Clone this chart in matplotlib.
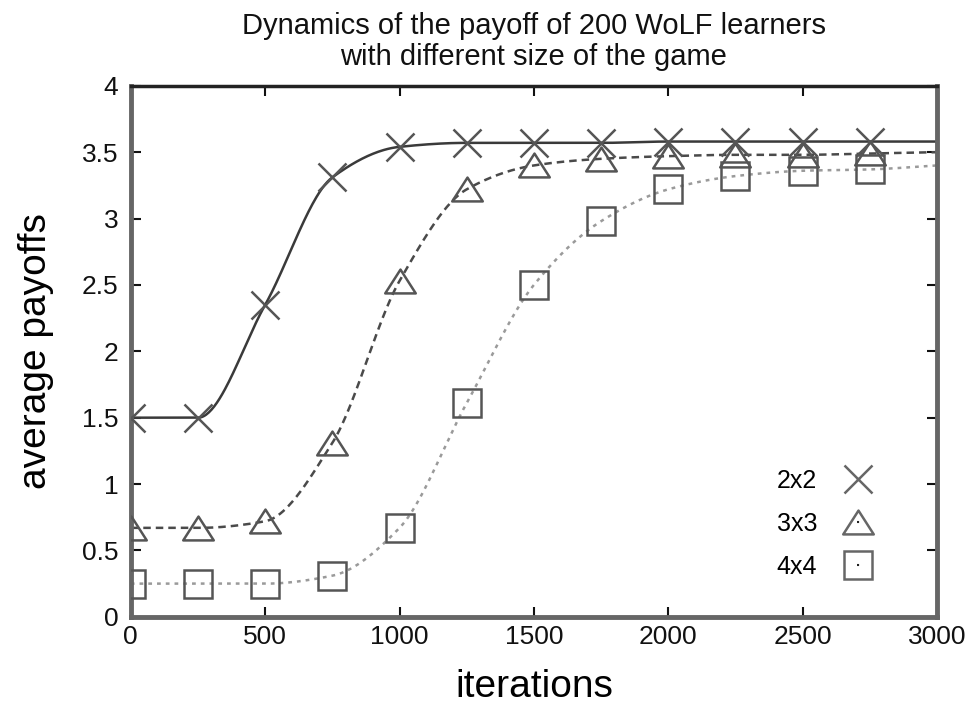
import numpy as np
import matplotlib
matplotlib.use("Agg")
import matplotlib.pyplot as plt
from matplotlib.path import Path

plt.rcParams['font.family'] = ['Liberation Sans', 'DejaVu Sans']

iterations = [0, 250, 500, 750, 1000, 1250, 1500, 1750, 2000, 2250, 2500, 2750, 3000]
payoff_2x2 = [1.50, 1.50, 2.35, 3.31, 3.54, 3.57, 3.57, 3.57, 3.58, 3.58, 3.58, 3.58, 3.58]
payoff_3x3 = [0.67, 0.67, 0.72, 1.31, 2.53, 3.22, 3.40, 3.45, 3.47, 3.48, 3.48, 3.49, 3.50]
payoff_4x4 = [0.25, 0.25, 0.25, 0.31, 0.67, 1.61, 2.50, 2.98, 3.22, 3.32, 3.36, 3.37, 3.40]
labels = ["2x2", "3x3", "4x4"]
x_ticks = [0, 500, 1000, 1500, 2000, 2500, 3000]
y_ticks = [0, 0.5, 1, 1.5, 2, 2.5, 3, 3.5, 4]
y_tick_labels = ["0", "0.5", "1", "1.5", "2", "2.5", "3", "3.5", "4"]


def pchip(x, y, xs):
    x = np.asarray(x, float); y = np.asarray(y, float)
    h = np.diff(x); d = np.diff(y) / h
    n = len(x); m = np.zeros(n)
    for k in range(1, n - 1):
        if d[k - 1] * d[k] > 0:
            w1 = 2 * h[k] + h[k - 1]; w2 = h[k] + 2 * h[k - 1]
            m[k] = (w1 + w2) / (w1 / d[k - 1] + w2 / d[k])
    m[0] = d[0]; m[-1] = d[-1]
    idx = np.clip(np.searchsorted(x, xs) - 1, 0, n - 2)
    t = (xs - x[idx]) / h[idx]
    h00 = 2 * t**3 - 3 * t**2 + 1; h10 = t**3 - 2 * t**2 + t
    h01 = -2 * t**3 + 3 * t**2; h11 = t**3 - t**2
    return h00 * y[idx] + h10 * h[idx] * m[idx] + h01 * y[idx + 1] + h11 * h[idx] * m[idx + 1]


tri = Path([(0, 0.78), (-1, -0.78), (1, -0.78), (0, 0.78)],
           [Path.MOVETO, Path.LINETO, Path.LINETO, Path.CLOSEPOLY])

fig = plt.figure(figsize=(9.76, 7.09), dpi=100)
ax = fig.add_axes([0.134, 0.130, 0.826, 0.749])

xs = np.linspace(0, 3000, 600)
series = [payoff_2x2, payoff_3x3, payoff_4x4]
line_colors = ["#3a3a3a", "#4a4a4a", "#9a9a9a"]
line_styles = ["-", (0, (3, 2)), (0, (1.5, 2))]
markers = ["x", tri, "s"]
msizes = [20, 22, 20]
handles = []
for vals, lab, lc, ls, mk, ms in zip(series, labels, line_colors, line_styles, markers, msizes):
    ax.plot(xs, pchip(iterations, vals, xs), color=lc, linestyle=ls, linewidth=1.8, zorder=2)
    ax.plot(iterations[:-1], vals[:-1], linestyle='none', marker=mk, markersize=ms,
            markerfacecolor='none', markeredgecolor='#555555', markeredgewidth=1.8, zorder=3)
    h, = ax.plot([], [], color='#222222', linestyle=':', linewidth=1.5, marker=mk, markersize=ms,
                 markerfacecolor='none', markeredgecolor='#666666', markeredgewidth=1.8)
    handles.append(h)

ax.set_xlim(0, 3000)
ax.set_ylim(0, 4)
ax.set_xticks(x_ticks)
ax.set_xticklabels([str(v) for v in x_ticks])
ax.set_yticks(y_ticks)
ax.set_yticklabels(y_tick_labels)
ax.tick_params(direction='in', length=7, width=1.5, top=True, right=True,
               labelsize=19, pad=6, colors='#111111')
ax.tick_params(axis='y', pad=9)

for side in ['left', 'bottom', 'right']:
    ax.spines[side].set_color('#666666')
    ax.spines[side].set_linewidth(3.5)
ax.spines['top'].set_color('#222222')
ax.spines['top'].set_linewidth(2.5)

ax.set_xlabel("iterations", fontsize=28, labelpad=14)
ax.set_ylabel("average payoffs", fontsize=28, labelpad=20)
ax.set_title("Dynamics of the payoff of 200 WoLF learners\nwith different size of the game",
             fontsize=21, pad=15, linespacing=1.15, color='#111111')

leg = ax.legend(handles, labels, loc='center right', bbox_to_anchor=(0.932, 0.175),
                markerfirst=False, frameon=False, fontsize=18, handlelength=0.1,
                labelspacing=0.75, handletextpad=1.6)

fig.savefig("out.png", dpi=100, facecolor='white')
